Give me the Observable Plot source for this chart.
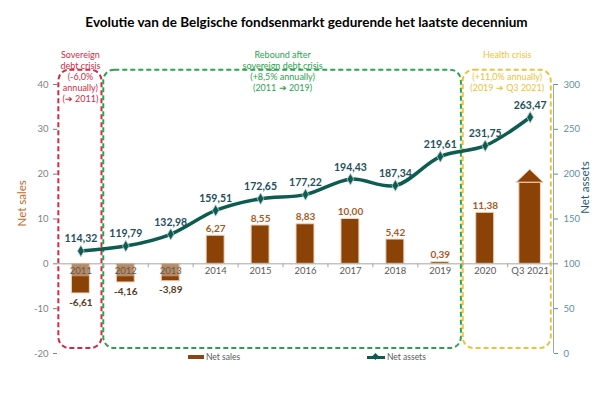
<!DOCTYPE html>
<html><head><meta charset="utf-8">
<script src="https://cdn.jsdelivr.net/npm/d3@7"></script>
<script src="https://cdn.jsdelivr.net/npm/@observablehq/plot@0.6"></script>
<style>
body{margin:0;background:#fff;font-family:Lato,"Liberation Sans",sans-serif;}
#wrap{position:relative;width:613px;height:398px;overflow:hidden;}
#title{height:40px;box-sizing:border-box;padding-top:13px;text-align:center;font-weight:bold;font-size:13.5px;line-height:18px;color:#000;}
#legend{position:absolute;top:351px;left:0;width:613px;height:12px;font-size:8.5px;color:#595959;}
#legend span{position:absolute;top:0;line-height:12px;}
</style></head><body>
<div id="wrap">
<div id="title">Evolutie van de Belgische fondsenmarkt gedurende het laatste decennium</div>
<div id="chart"></div>
<div id="legend">
  <span style="left:188px;top:4px;width:16px;height:4px;background:#8b4513;"></span>
  <span style="left:206px;">Net sales</span>
  <span style="left:367px;top:5px;width:18px;height:3px;background:#0d5c52;"></span>
  <span style="left:373px;top:3px;width:5px;height:5px;background:#0d5c52;transform:rotate(45deg);"></span>
  <span style="left:387px;">Net assets</span>
</div>
</div>
<script>
const categories = ["2011","2012","2013","2014","2015","2016","2017","2018","2019","2020","Q3 2021"];
const netSales = [-6.61,-4.16,-3.89,6.27,8.55,8.83,10.00,5.42,0.39,11.38,null];
const netAssets = [114.32,119.79,132.98,159.51,172.65,177.22,194.43,187.34,219.61,231.75,263.47];
const arrowCategory = "Q3 2021";
const arrowBody = 18.1;
const arrowTip = 21.0;
const salesTicks = [-20,-10,0,10,20,30,40];
const periodFirst = ["2011","2012","2020"];
const periodLast = ["2011","2019","Q3 2021"];
const periodTitles = ["Sovereign\ndebt crisis","Rebound after\nsovereign debt crisis","Health crisis\n"];
const periodRates = ["(-6,0%\nannually)","(+8,5% annually)","(+11,0% annually)"];
const periodRanges = ["(➔ 2011)","(2011 ➔ 2019)","(2019 ➔ Q3 2021)"];
const periodColors = ["#d02a45","#2ca24f","#ecc23a"];

const fmt = v => v.toFixed(2).replace(".", ",");
const idx = c => categories.indexOf(c);
// map net assets onto the net sales scale (0 -> -20, 300 -> 40)
const toSales = a => (a - 100) / 5;

const rows = categories.map((c,i) => ({c, i, sales: netSales[i], assets: netAssets[i], ay: toSales(netAssets[i])}));
const bars = rows.filter(d => d.sales != null);
const negBars = bars.filter(d => d.sales < 0);
const periods = periodFirst.map((f,k) => ({
  x1: idx(f) - 0.49, x2: idx(periodLast[k]) + 0.47,
  text: periodTitles[k] + "\n" + periodRates[k] + "\n" + periodRanges[k],
  color: periodColors[k]
}));
const ai = idx(arrowCategory);
const arrowBodyData = [{i: ai, v: arrowBody}];
const arrowHead = [
  {x: ai - 0.3, y: arrowBody},
  {x: ai, y: arrowTip},
  {x: ai + 0.3, y: arrowBody}
];
const boundaries = d3.range(0, categories.length - 1).map(i => i + 0.5);

const font = 'Lato,"Liberation Sans",sans-serif';

const chart = Plot.plot({
  width: 613,
  height: 358,
  marginLeft: 57,
  marginRight: 60,
  marginTop: 44,
  marginBottom: 45,
  style: {fontFamily: font, background: "transparent", overflow: "visible"},
  x: {domain: [-0.52, 10.52], axis: null},
  y: {domain: [-20, 40], axis: null},
  marks: [
    // period boxes
    Plot.rect(periods, {x1: "x1", x2: "x2", y1: -18.9, y2: 43.2, fill: "none", stroke: "color", strokeWidth: 2, strokeDasharray: "5,3", rx: 11}),
    Plot.text(periods, {x: d => (d.x1 + d.x2) / 2, text: "text", frameAnchor: "top", lineAnchor: "top", dy: -34, fill: "color", fontSize: 9, lineHeight: 1.22}),
    // axes
    Plot.axisY({anchor: "left", ticks: salesTicks, tickFormat: d => String(d), tickSize: 4, tickPadding: 5, fontSize: 9.5, color: "#7f7f7f", label: null}),
    Plot.axisY({anchor: "right", ticks: salesTicks, tickFormat: d => String(d * 5 + 100), tickSize: 4, tickPadding: 6, fontSize: 9.5, color: "#5e8fa0", label: null}),
    Plot.ruleX([10.52], {stroke: "#9aa9ad"}),
    Plot.text(["Net sales"], {x: -0.52, y: 13.5, dx: -35, rotate: -90, fontSize: 11.5, fill: "#c06a2b"}),
    Plot.text(["Net assets"], {x: 10.52, y: 17, dx: 32, rotate: -90, fontSize: 11.5, fill: "#1f5c6e"}),
    // bars
    Plot.rectY(bars, {x1: d => d.i - 0.2, x2: d => d.i + 0.2, y1: 0, y2: "sales", fill: "#8b4207", stroke: "#f0d4bd", strokeWidth: 1}),
    Plot.rectY(arrowBodyData, {x1: d => d.i - 0.24, x2: d => d.i + 0.24, y1: 0, y2: "v", fill: "#8b4207", stroke: "#f0d4bd", strokeWidth: 1}),
    Plot.areaY(arrowHead, {x: "x", y1: arrowBody, y2: "y", fill: "#8b4207", stroke: "#f0d4bd", strokeWidth: 1}),
    Plot.rectY(negBars, {x1: d => d.i - 0.2, x2: d => d.i + 0.2, y1: 0, y2: -2.9, fill: "#f3e3d2", fillOpacity: 0.45}),
    // zero line
    Plot.ruleY([0], {stroke: "#a6a6a6", strokeWidth: 1}),
    Plot.ruleX(boundaries, {y1: 0, y2: -0.9, stroke: "#a6a6a6"}),
    Plot.text(categories, {x: (d, i) => i, y: 0, dy: 7, fontSize: 9.5, fill: "#595959"}),
    // bar labels
    Plot.text(bars.filter(d => d.sales >= 0), {x: "i", y: "sales", text: d => fmt(d.sales), dy: -7, fontSize: 10, fontWeight: "bold", fill: "#a85a25"}),
    Plot.text(negBars, {x: "i", y: "sales", text: d => fmt(d.sales), dy: 9, fontSize: 10, fontWeight: "bold", fill: "#5b3a22"}),
    // net assets line
    Plot.line(rows, {x: "i", y: "ay", stroke: "#0d5c52", strokeWidth: 3.5, curve: "catmull-rom"}),
    Plot.dot(rows, {x: "i", y: "ay", symbol: "diamond", r: 3.5, fill: "#0d5c52", stroke: "#b9cfcb", strokeWidth: 0.8}),
    Plot.text(rows, {x: "i", y: "ay", text: d => fmt(d.assets), dy: -12, fontSize: 10.5, fontWeight: "bold", fill: "#22505c"})
  ]
});
document.getElementById("chart").appendChild(chart);
</script>
</body></html>
